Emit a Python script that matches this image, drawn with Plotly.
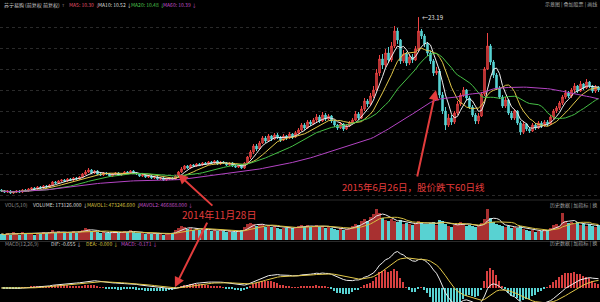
import plotly.graph_objects as go
from plotly.subplots import make_subplots
import pandas as pd

# ---------------- data ----------------
close = [5.8, 5.7, 5.8, 5.6, 5.7, 5.8, 5.7, 5.9, 5.8, 6.0,
         6.1, 6.0, 6.2, 6.1, 6.3, 6.2, 6.4, 6.7, 6.6, 6.8,
         6.9, 6.8, 7.0, 6.9, 7.1, 7.0, 7.2, 7.5, 7.7, 7.9,
         7.6, 7.8, 7.5, 7.4, 7.6, 7.5, 7.3, 7.5, 7.6, 7.4,
         7.5, 7.7, 7.6, 7.8, 7.6, 7.5, 7.3, 7.4, 7.2, 7.3,
         7.1, 7.2, 7.0, 7.1, 6.9, 7.0, 7.1, 7.0, 7.3, 7.7,
         8.0, 8.3, 8.1, 8.4, 8.3, 8.5, 8.4, 8.6, 8.5, 8.7,
         8.6, 8.8, 8.5, 8.7, 8.6, 8.4, 8.6, 8.3, 8.2, 8.4,
         8.1, 8.6, 9.2, 9.7, 10.3, 10.0, 10.6, 11.1, 10.8, 11.3,
         11.0, 11.4, 11.2, 10.9, 11.3, 11.1, 11.5, 11.2, 11.6, 11.9,
         12.4, 12.1, 12.7, 12.5, 12.9, 13.2, 12.8, 13.4, 13.0, 13.3,
         12.8, 12.4, 12.1, 12.5, 12.0, 12.3, 12.6, 12.9, 13.5, 13.1,
         14.0, 14.8, 14.5, 15.3, 15.9, 17.6, 19.0, 18.4, 19.6, 18.9,
         20.3, 21.8, 20.9, 18.8, 19.5, 18.6, 19.2, 18.9, 20.0, 21.8,
         21.3, 20.5, 19.6, 18.8, 17.6, 17.8, 15.4, 13.8, 12.4, 13.1,
         12.7, 13.6, 14.5, 15.4, 15.9, 15.1, 14.2, 13.4, 12.8, 13.3,
         15.5, 18.0, 20.3, 18.7, 17.4, 16.1, 15.2, 14.3, 14.9, 13.6,
         13.1, 13.8, 12.6, 11.7, 12.5, 12.0, 11.8, 12.4, 12.1, 12.6,
         12.3, 12.7, 12.5, 13.2, 13.8, 14.1, 14.6, 15.2, 15.6, 15.3,
         15.9, 16.3, 15.8, 16.5, 16.1, 16.7, 16.3, 15.8, 16.2, 15.9]

open_ = [5.9, 5.8, 5.7, 5.8, 5.6, 5.7, 5.8, 5.7, 5.9, 5.8,
         6.0, 6.1, 6.0, 6.2, 6.1, 6.3, 6.2, 6.4, 6.7, 6.6,
         6.8, 6.9, 6.8, 7.0, 6.9, 7.1, 7.0, 7.2, 7.5, 7.7,
         7.9, 7.6, 7.8, 7.5, 7.4, 7.6, 7.5, 7.3, 7.5, 7.6,
         7.4, 7.5, 7.7, 7.6, 7.8, 7.6, 7.5, 7.3, 7.4, 7.2,
         7.3, 7.1, 7.2, 7.0, 7.1, 6.9, 7.0, 7.1, 7.0, 7.3,
         7.7, 8.0, 8.3, 8.1, 8.4, 8.3, 8.5, 8.4, 8.6, 8.5,
         8.7, 8.6, 8.8, 8.5, 8.7, 8.6, 8.4, 8.6, 8.3, 8.2,
         8.4, 8.1, 8.6, 9.2, 9.7, 10.3, 10.0, 10.6, 11.1, 10.8,
         11.3, 11.0, 11.4, 11.2, 10.9, 11.3, 11.1, 11.5, 11.2, 11.6,
         11.9, 12.4, 12.1, 12.7, 12.5, 12.9, 13.2, 12.8, 13.4, 13.0,
         13.3, 12.8, 12.4, 12.1, 12.5, 12.0, 12.3, 12.6, 12.9, 13.5,
         13.1, 14.0, 14.8, 14.5, 15.3, 15.9, 17.6, 19.0, 18.4, 19.6,
         18.9, 20.3, 21.8, 20.9, 18.8, 19.5, 18.6, 19.2, 18.9, 20.0,
         21.8, 21.3, 20.5, 19.6, 18.8, 17.6, 17.8, 15.4, 13.8, 12.4,
         13.1, 12.7, 13.6, 14.5, 15.4, 15.9, 15.1, 14.2, 13.4, 12.8,
         13.3, 15.5, 18.0, 20.3, 18.7, 17.4, 16.1, 15.2, 14.3, 14.9,
         13.6, 13.1, 13.8, 12.6, 11.7, 12.5, 12.0, 11.8, 12.4, 12.1,
         12.6, 12.3, 12.7, 12.5, 13.2, 13.8, 14.1, 14.6, 15.2, 15.6,
         15.3, 15.9, 16.3, 15.8, 16.5, 16.1, 16.7, 16.3, 15.8, 16.2]

high = [6.0, 5.9, 5.9, 5.9, 5.8, 5.9, 5.9, 6.0, 6.0, 6.1,
        6.2, 6.2, 6.3, 6.3, 6.4, 6.4, 6.5, 6.8, 6.8, 6.9,
        7.0, 7.0, 7.1, 7.1, 7.2, 7.2, 7.3, 7.6, 7.9, 8.1,
        8.0, 7.9, 7.9, 7.6, 7.7, 7.7, 7.6, 7.6, 7.7, 7.7,
        7.6, 7.8, 7.8, 7.9, 7.9, 7.7, 7.6, 7.5, 7.5, 7.4,
        7.4, 7.3, 7.3, 7.2, 7.2, 7.1, 7.2, 7.2, 7.4, 7.8,
        8.2, 8.4, 8.4, 8.5, 8.5, 8.6, 8.6, 8.7, 8.7, 8.8,
        8.8, 8.9, 8.9, 8.8, 8.8, 8.7, 8.7, 8.7, 8.4, 8.5,
        8.5, 8.7, 9.3, 9.9, 10.5, 10.5, 10.8, 11.3, 11.3, 11.5,
        11.4, 11.6, 11.6, 11.3, 11.5, 11.4, 11.7, 11.6, 11.8, 12.1,
        12.6, 12.6, 12.9, 12.9, 13.1, 13.5, 13.4, 13.7, 13.6, 13.5,
        13.4, 12.9, 12.5, 12.7, 12.6, 12.5, 12.8, 13.1, 13.8, 13.7,
        14.3, 15.1, 15.0, 15.6, 16.3, 18.0, 19.4, 19.5, 20.0, 20.2,
        20.7, 22.3, 22.1, 21.0, 19.9, 19.7, 19.5, 19.5, 20.3, 23.19,
        22.0, 21.5, 20.7, 19.8, 19.0, 18.2, 18.0, 15.7, 14.2, 13.5,
        13.4, 13.8, 14.8, 15.6, 16.2, 16.0, 15.3, 14.4, 13.6, 13.6,
        15.7, 18.2, 21.6, 20.5, 18.9, 17.6, 16.3, 15.4, 15.2, 15.0,
        13.8, 14.0, 13.9, 12.8, 12.7, 12.6, 12.2, 12.6, 12.6, 12.8,
        12.8, 12.9, 12.9, 13.4, 14.0, 14.3, 14.8, 15.4, 15.9, 15.8,
        16.1, 16.6, 16.4, 16.8, 16.6, 17.0, 16.8, 16.4, 16.4, 16.3]

low = [5.7, 5.6, 5.6, 5.5, 5.5, 5.6, 5.6, 5.6, 5.7, 5.7,
       5.9, 5.9, 5.9, 6.0, 6.0, 6.1, 6.1, 6.3, 6.5, 6.5,
       6.7, 6.7, 6.7, 6.8, 6.8, 6.9, 6.9, 7.1, 7.4, 7.6,
       7.5, 7.5, 7.4, 7.3, 7.3, 7.4, 7.2, 7.2, 7.4, 7.3,
       7.3, 7.4, 7.5, 7.5, 7.5, 7.4, 7.2, 7.2, 7.1, 7.1,
       7.0, 7.0, 6.9, 6.9, 6.8, 6.8, 6.9, 6.9, 6.9, 7.2,
       7.6, 7.9, 8.0, 8.0, 8.2, 8.2, 8.3, 8.3, 8.4, 8.4,
       8.5, 8.5, 8.4, 8.4, 8.5, 8.3, 8.3, 8.2, 8.1, 8.1,
       8.0, 8.0, 8.5, 9.0, 9.5, 9.8, 9.9, 10.5, 10.6, 10.7,
       10.8, 10.9, 11.0, 10.7, 10.8, 10.9, 11.0, 11.0, 11.1, 11.5,
       11.8, 11.9, 12.0, 12.3, 12.4, 12.7, 12.6, 12.7, 12.8, 12.9,
       12.6, 12.2, 11.9, 12.0, 11.8, 11.9, 12.2, 12.5, 12.8, 12.9,
       13.0, 13.8, 14.2, 14.3, 15.1, 15.8, 17.3, 18.0, 18.2, 18.6,
       18.7, 20.1, 20.5, 18.5, 18.6, 18.3, 18.4, 18.6, 18.8, 19.8,
       21.0, 20.2, 19.3, 18.5, 17.3, 17.4, 15.1, 13.5, 11.9, 12.2,
       12.4, 12.5, 13.4, 14.3, 15.2, 14.9, 14.0, 13.2, 12.5, 12.5,
       13.2, 15.3, 17.9, 18.4, 17.1, 15.9, 15.0, 14.1, 14.1, 13.4,
       12.9, 12.9, 12.4, 11.4, 11.5, 11.8, 11.6, 11.7, 11.9, 12.0,
       12.1, 12.2, 12.3, 12.4, 13.0, 13.6, 13.9, 14.4, 15.0, 15.1,
       15.1, 15.7, 15.6, 15.7, 15.9, 16.0, 16.1, 15.6, 15.6, 15.7]

volume = [22, 18, 25, 20, 28, 24, 19, 30, 22, 26,
          24, 20, 27, 22, 30, 25, 28, 35, 26, 32,
          28, 24, 30, 26, 33, 27, 31, 38, 42, 40,
          34, 30, 28, 25, 30, 27, 24, 29, 31, 26,
          28, 33, 30, 35, 29, 26, 24, 27, 23, 25,
          22, 26, 21, 24, 20, 23, 27, 25, 35, 45,
          50, 46, 40, 44, 38, 42, 36, 40, 35, 38,
          34, 39, 33, 37, 31, 30, 35, 29, 28, 33,
          36, 48, 58, 62, 60, 52, 55, 58, 48, 54,
          46, 50, 44, 40, 45, 42, 48, 43, 47, 52,
          55, 48, 53, 46, 50, 56, 47, 52, 45, 49,
          44, 40, 38, 42, 37, 41, 45, 50, 60, 55,
          68, 75, 70, 85, 95, 112, 100, 80, 72, 68,
          75, 70, 65, 72, 60, 62, 58, 55, 63, 70,
          64, 60, 58, 62, 66, 55, 72, 68, 60, 52,
          48, 55, 60, 66, 58, 52, 56, 50, 47, 53,
          62, 75, 112, 80, 66, 58, 54, 50, 46, 52,
          45, 48, 42, 50, 40, 36, 33, 38, 30, 34,
          32, 38, 35, 45, 55, 60, 52, 98, 70, 62,
          66, 58, 64, 55, 60, 52, 57, 50, 48, 54]

ma_periods = [5, 10, 20, 60]
header_ma = ["MA5: 10.30 ↓", "MA10: 10.52 ↓", "MA20: 10.48 ↓", "MA60: 10.39 ↓"]
peak_label = "23.19"
note_1 = "2014年11月28日"
note_2 = "2015年6月26日，股价跌下60日线"

# ---------------- derived series ----------------
n = len(close)
x = list(range(n))
cs = pd.Series(close)
mas = [cs.rolling(p, min_periods=1).mean() for p in ma_periods]
vs = pd.Series(volume)
mavol5 = vs.rolling(5, min_periods=1).mean()
mavol10 = vs.rolling(10, min_periods=1).mean()
ema12 = cs.ewm(span=12, adjust=False).mean()
ema26 = cs.ewm(span=26, adjust=False).mean()
dif = ema12 - ema26
dea = dif.ewm(span=9, adjust=False).mean()
hist = 2 * (dif - dea)

RED = "#f04444"
CYAN = "#58d2d2"
up = [c >= o for c, o in zip(close, open_)]

fig = make_subplots(rows=3, cols=1, shared_xaxes=True)

fig.add_trace(go.Candlestick(
    x=x, open=open_, high=high, low=low, close=close,
    increasing=dict(line=dict(color=RED, width=1), fillcolor="#8a2626"),
    decreasing=dict(line=dict(color=CYAN, width=1), fillcolor=CYAN),
    whiskerwidth=0, hoverinfo="skip"), row=1, col=1)

ma_colors = ["#eeeeee", "#e2c84a", "#46c046", "#b444c4"]
for m, col in zip(mas, ma_colors):
    fig.add_trace(go.Scatter(x=x, y=m, mode="lines",
                             line=dict(color=col, width=1), hoverinfo="skip"), row=1, col=1)

fig.add_trace(go.Bar(x=x, y=volume, width=0.7,
                     marker=dict(color=["#a83030" if u else CYAN for u in up],
                                 line=dict(width=0)), hoverinfo="skip"), row=2, col=1)
fig.add_trace(go.Scatter(x=x, y=mavol5, mode="lines", line=dict(color="#e8e8e8", width=1),
                         hoverinfo="skip"), row=2, col=1)
fig.add_trace(go.Scatter(x=x, y=mavol10, mode="lines", line=dict(color="#d8c040", width=1),
                         hoverinfo="skip"), row=2, col=1)

fig.add_trace(go.Bar(x=x, y=hist, width=0.4,
                     marker=dict(color=["#d84040" if h >= 0 else CYAN for h in hist],
                                 line=dict(width=0)), hoverinfo="skip"), row=3, col=1)
fig.add_trace(go.Scatter(x=x, y=dif, mode="lines", line=dict(color="#eeeeee", width=1),
                         hoverinfo="skip"), row=3, col=1)
fig.add_trace(go.Scatter(x=x, y=dea, mode="lines", line=dict(color="#e2c84a", width=1),
                         hoverinfo="skip"), row=3, col=1)

H = 302.0
def py(p):
    return 1 - p / H

ax_common = dict(showticklabels=False, showgrid=False, zeroline=False,
                 showline=False, ticks="")
fig.update_layout(
    width=600, height=302, margin=dict(l=0, r=0, t=0, b=0),
    paper_bgcolor="#000000", plot_bgcolor="#000000",
    showlegend=False, bargap=0,
    font=dict(family="Noto Sans CJK SC, Noto Sans, sans-serif"),
    xaxis=dict(range=[-0.5, n - 0.5], rangeslider=dict(visible=False), **ax_common),
    xaxis2=dict(range=[-0.5, n - 0.5], **ax_common),
    xaxis3=dict(range=[-0.5, n - 0.5], **ax_common),
    yaxis=dict(domain=[py(197), py(10)], range=[5.2, 23.9],
               showticklabels=False, zeroline=False, ticks="",
               showgrid=True, gridcolor="#2a2a2a", griddash="dot", gridwidth=1,
               tickmode="linear", tick0=1.2, dtick=2.1),
    yaxis2=dict(domain=[py(240), py(207)], range=[0, 120], **ax_common),
    yaxis3=dict(domain=[0, py(246)], range=[-0.87, 2.6], **ax_common),
)

# panel separators
for yy in [200, 241.5]:
    fig.add_shape(type="line", xref="paper", yref="paper", x0=0, x1=1,
                  y0=py(yy), y1=py(yy), line=dict(color="#2a2a2a", width=1))

def txt(xp, yp, s, color, size=5, anchor="left"):
    fig.add_annotation(xref="paper", yref="paper", x=xp / 600.0, y=py(yp), text=s,
                       showarrow=False, xanchor=anchor, yanchor="middle",
                       font=dict(color=color, size=size))

# header lines
txt(2, 5, "苏宁易购 (前复权 前复权)", "#d0d0d0", 5)
txt(60, 5, "T", "#888888", 4)
hdr_x = [67, 96, 129, 161]
hdr_c = ["#e0506a", "#dcdcdc", "#4cc24c", "#c050c8"]
for hx, hs, hc in zip(hdr_x, header_ma, hdr_c):
    txt(hx, 5, hs, hc, 5)
txt(599, 4, "示意图 | 叠加股票 | 画线", "#a0a0a0", 5, "right")

txt(3, 204, "VOL(5,10)", "#909090", 5)
txt(31, 204, "VOLUME: 173126.000 ↓", "#dcdcdc", 5)
txt(85, 204, "MAVOL1: 473246.600 ↓", "#d8c040", 5)
txt(137, 204, "MAVOL2: 466868.000 ↓", "#c050c8", 5)
txt(599, 205, "历史数据 | 加指标 | 换", "#a0a0a0", 5, "right")

txt(3, 243.5, "MACD(12,26,9)", "#909090", 5)
txt(49, 243.5, "DIF: -0.655 ↓", "#dcdcdc", 5)
txt(84, 243.5, "DEA: -0.000 ↓", "#d8c040", 5)
txt(119, 243.5, "MACD: -0.171 ↓", "#c050c8", 5)
txt(599, 243, "历史数据 | 加指标 | 换", "#a0a0a0", 5, "right")

# peak label
pk = high.index(max(high))
fig.add_annotation(x=pk, y=max(high), xref="x", yref="y", text="←" + peak_label,
                   showarrow=False, xanchor="left", yanchor="middle", xshift=1,
                   font=dict(color="#e0e0e0", size=6))

# red notes & arrows
NOTE = "#e23c3c"
txt(219, 214, note_1, NOTE, 10, "center")
txt(414, 186.5, note_2, NOTE, 9.5, "center")

fig.add_annotation(x=58.8, y=7.5, xref="x", yref="y", ax=36, ay=33, text="",
                   showarrow=True, arrowhead=2, arrowsize=1, arrowwidth=2, arrowcolor=NOTE)
fig.add_annotation(x=57.8, y=0.05, xref="x3", yref="y3", ax=33, ay=-66, text="",
                   showarrow=True, arrowhead=2, arrowsize=1, arrowwidth=2, arrowcolor=NOTE)
fig.add_annotation(x=144.8, y=15.9, xref="x", yref="y", ax=-19, ay=88, text="",
                   showarrow=True, arrowhead=2, arrowsize=1, arrowwidth=2, arrowcolor=NOTE)

fig.write_html("out.html", config={"displayModeBar": False})
